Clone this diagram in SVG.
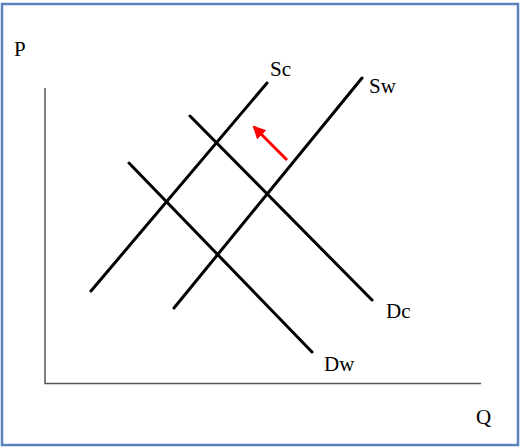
<svg xmlns="http://www.w3.org/2000/svg" width="520" height="448" viewBox="0 0 520 448">
<style>
.curve{stroke:#000;stroke-width:3;fill:none;stroke-linecap:round}
.axis{stroke:#555;stroke-width:1.5;fill:none}
text{font-family:"Liberation Serif","Times New Roman",serif;font-size:21px;fill:#000}
</style>
<defs>
<marker id="ah" markerWidth="14" markerHeight="14" refX="11" refY="6.5" orient="auto" markerUnits="userSpaceOnUse"><path d="M0,0 L13,6.5 L0,13 z" fill="#ff0000"/></marker>
</defs>
<rect x="2" y="4" width="516" height="441" fill="#fff" stroke="#5a82bd" stroke-width="2.5"/>
<g id="axes">
<path class="axis" d="M45,88 V383.5 H481"/>
<text x="14" y="56">P</text>
<text x="476" y="424">Q</text>
</g>
<g id="connectors">
<g id="Sc"><line class="curve" x1="91" y1="291" x2="267" y2="83"/><text x="270" y="76">Sc</text></g>
<g id="Sw"><line class="curve" x1="174" y1="308" x2="362" y2="78"/><text x="369" y="93">Sw</text></g>
<g id="Dc"><line class="curve" x1="190" y1="116" x2="372" y2="300"/><text x="386" y="318">Dc</text></g>
<g id="Dw"><line class="curve" x1="129" y1="163" x2="312" y2="352"/><text x="324" y="371">Dw</text></g>
<g id="shift"><line x1="287" y1="160" x2="254" y2="127" stroke="#ff0000" stroke-width="3" marker-end="url(#ah)"/></g>
</g>
</svg>
